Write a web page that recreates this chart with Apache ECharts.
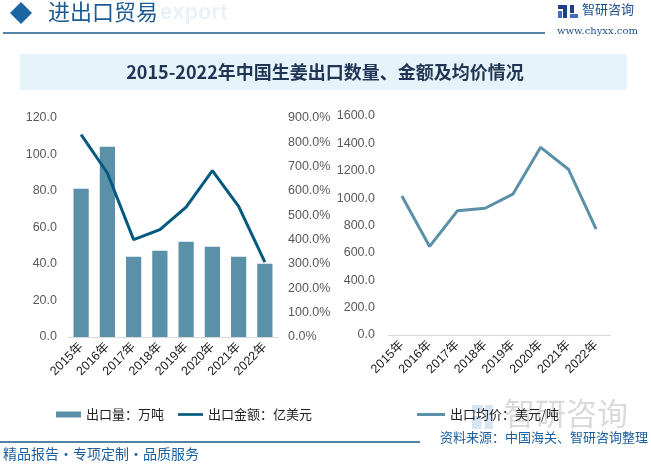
<!DOCTYPE html>
<html>
<head>
<meta charset="utf-8">
<script src="https://cdn.jsdelivr.net/npm/echarts@6/dist/echarts.min.js"></script>
<style>
html,body{margin:0;padding:0;background:#fff;}
#c{width:651px;height:465px;}
</style>
</head>
<body>
<div id="c"></div>
<script>
var years = ['2015年','2016年','2017年','2018年','2019年','2020年','2021年','2022年'];
var exportVolume = [81.3, 104.2, 44.0, 47.3, 52.2, 49.5, 44.0, 40.2];      // 万吨
var exportAmount = [8.32, 6.74, 4.00, 4.41, 5.34, 6.84, 5.37, 3.08];       // 亿美元
var avgPrice = [1016, 647, 907, 926, 1029, 1371, 1211, 773];              // 美元/吨
var leftTicks = {min: 0, max: 120, interval: 20};
var rightTicks = {min: 0, max: 9, interval: 1};
var priceTicks = {min: 0, max: 1600, interval: 200};

var FONT = '"Liberation Sans","Noto Sans CJK SC",sans-serif';
var CJK = '"Noto Sans CJK SC",sans-serif';
var chart = echarts.init(document.getElementById('c'), null, {renderer: 'canvas'});

var xAxisCommon = {
  type: 'category',
  axisLine: {lineStyle: {color: '#d9d9d9', width: 1}},
  axisTick: {show: false},
  axisLabel: {rotate: 45, color: '#222', fontSize: 12.5, fontFamily: FONT, margin: 8, interval: 0}
};
var yLabel = {color: '#595959', fontSize: 12.5, fontFamily: FONT};
var lineIcon = 'path://M0,0 L30,0 L30,3.2 L0,3.2 Z';

chart.setOption({
  backgroundColor: '#fff',
  animation: false,
  graphic: [
    {type: 'polygon', shape: {points: [[21,2],[32,13],[21,24],[10,13]]}, style: {fill: '#1b65a3'}},
    {type: 'text', left: 160, top: 2, z: 1, style: {text: 'export', fill: '#ebf1f7', font: 'bold 22px "Liberation Sans",sans-serif'}},
    {type: 'text', left: 48, top: 1, z: 2, style: {text: '进出口贸易', fill: '#1d5b92', font: '22px "Noto Sans CJK SC",sans-serif'}},
    {type: 'line', shape: {x1: 3, y1: 33, x2: 545, y2: 33}, style: {stroke: '#1c5a85', lineWidth: 1.5}},
    {type: 'rect', shape: {x: 558, y: 5, width: 9, height: 4}, style: {fill: '#1f3f8a'}},
    {type: 'rect', shape: {x: 563, y: 5, width: 4, height: 13}, style: {fill: '#1f3f8a'}},
    {type: 'rect', shape: {x: 558, y: 11, width: 4, height: 7}, style: {fill: '#3f6fc0'}},
    {type: 'rect', shape: {x: 570, y: 5, width: 4, height: 8}, style: {fill: '#1f3f8a'}},
    {type: 'rect', shape: {x: 570, y: 14, width: 8, height: 4}, style: {fill: '#3f6fc0'}},
    {type: 'text', left: 582, top: 3, style: {text: '智研咨询', fill: '#1d4f8c', font: '13px "Noto Sans CJK SC",sans-serif'}},
    {type: 'text', left: 557, top: 26, style: {text: 'www.chyxx.com', fill: '#1d4f8c', font: '10px "DejaVu Serif",serif'}},
    {type: 'rect', shape: {x: 20, y: 54, width: 607, height: 36}, style: {fill: '#e6f3fb'}},
    {type: 'text', x: 325, y: 72, style: {text: '2015-2022年中国生姜出口数量、金额及均价情况', fill: '#1f3553', font: 'bold 18px "Noto Sans CJK SC",sans-serif', textAlign: 'center', textVerticalAlign: 'middle'}},
    {type: 'rect', shape: {x: 472, y: 405, width: 11, height: 8}, style: {fill: 'rgba(120,170,220,0.3)'}},
    {type: 'rect', shape: {x: 485, y: 405, width: 8, height: 24}, style: {fill: 'rgba(120,170,220,0.3)'}},
    {type: 'rect', shape: {x: 472, y: 416, width: 9, height: 13}, style: {fill: 'rgba(120,170,220,0.3)'}},
    {type: 'text', left: 504, top: 398, style: {text: '智研咨询', fill: 'rgba(150,150,150,0.35)', font: '31px "Noto Sans CJK SC",sans-serif'}},
    {type: 'line', shape: {x1: 0, y1: 442, x2: 420, y2: 442}, style: {stroke: '#1c5a85', lineWidth: 1.5}},
    {type: 'text', left: 3, top: 447, style: {text: '精品报告·专项定制·品质服务', fill: '#1a5fa0', font: '14px "Noto Sans CJK SC",sans-serif'}},
    {type: 'text', right: 3, top: 431, style: {text: '资料来源：中国海关、智研咨询整理', fill: '#1a5fa0', font: '13px "Noto Sans CJK SC",sans-serif'}}
  ],
  legend: [
    {
      left: 51, top: 403, itemWidth: 25, itemHeight: 6, itemGap: 14,
      textStyle: {color: '#222', fontSize: 13, fontFamily: CJK},
      data: [{name: '出口量：万吨', icon: 'rect'}, {name: '出口金额：亿美元', icon: lineIcon}]
    },
    {
      left: 412, top: 403, itemWidth: 28, itemHeight: 6,
      textStyle: {color: '#222', fontSize: 13, fontFamily: CJK},
      data: [{name: '出口均价：美元/吨', icon: lineIcon}]
    }
  ],
  grid: [
    {left: 68, right: 373, top: 118, bottom: 128},
    {left: 388, right: 41, top: 116, bottom: 130}
  ],
  xAxis: [
    Object.assign({gridIndex: 0, data: years}, xAxisCommon),
    Object.assign({gridIndex: 1, data: years}, xAxisCommon)
  ],
  yAxis: [
    {gridIndex: 0, type: 'value', min: leftTicks.min, max: leftTicks.max, interval: leftTicks.interval,
     splitLine: {show: false}, axisLine: {show: false}, axisTick: {show: false},
     axisLabel: Object.assign({margin: 11, formatter: function(v){return v.toFixed(1);}}, yLabel)},
    {gridIndex: 0, type: 'value', position: 'right', min: rightTicks.min, max: rightTicks.max, interval: rightTicks.interval,
     splitLine: {show: false}, axisLine: {show: false}, axisTick: {show: false},
     axisLabel: Object.assign({margin: 10, formatter: function(v){return (v*100).toFixed(1) + '%';}}, yLabel)},
    {gridIndex: 1, type: 'value', min: priceTicks.min, max: priceTicks.max, interval: priceTicks.interval,
     splitLine: {show: false}, axisLine: {show: false}, axisTick: {show: false},
     axisLabel: Object.assign({margin: 13, formatter: function(v){return v.toFixed(1);}}, yLabel)}
  ],
  series: [
    {name: '出口量：万吨', type: 'bar', xAxisIndex: 0, yAxisIndex: 0, data: exportVolume,
     barWidth: '58%', itemStyle: {color: '#5b90a9'}},
    {name: '出口金额：亿美元', type: 'line', xAxisIndex: 0, yAxisIndex: 1, data: exportAmount,
     symbol: 'none', lineStyle: {color: '#045a7e', width: 3}, itemStyle: {color: '#045a7e'}},
    {name: '出口均价：美元/吨', type: 'line', xAxisIndex: 1, yAxisIndex: 2, data: avgPrice,
     symbol: 'none', lineStyle: {color: '#5b90a9', width: 3}, itemStyle: {color: '#5b90a9'}}
  ]
});
</script>
</body>
</html>
